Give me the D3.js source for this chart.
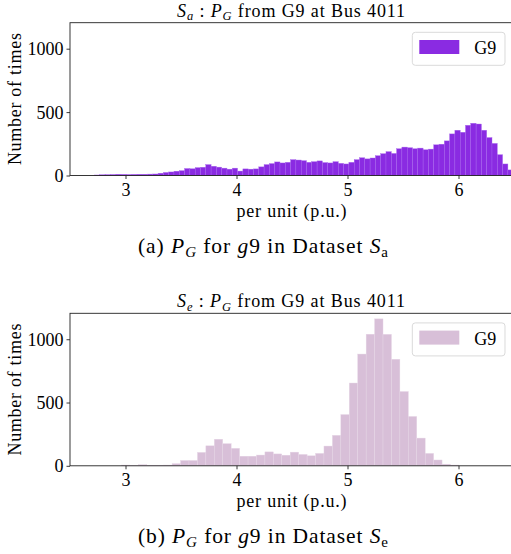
<!DOCTYPE html>
<html>
<head>
<meta charset="utf-8">
<script src="https://cdn.jsdelivr.net/npm/d3@7"></script>
<style>
  html, body { margin: 0; padding: 0; background: #fff; }
  svg { display: block; }
  text { font-family: "Liberation Serif", "Times New Roman", Tinos, Times, "DejaVu Serif", "Noto Serif", serif; fill: #000; }
</style>
</head>
<body>
<svg id="chart" width="511" height="554"></svg>
<script>
// ---------------- data ----------------
const xTicks = [3, 4, 5, 6];
const yTicks = [0, 500, 1000];
const xDomain = [2.5, 6.5];
const yDomain = [0, 1205];

// Dataset S_a histogram (bin start, bin width, counts)
const binStartA = 2.7205;
const binWidthA = 0.04775;
const countsA = [
  4, 6, 7, 8, 10, 9, 8, 9, 10, 10, 11, 12,
  18, 24, 28, 34,
  38, 55, 53, 62, 65, 86, 73, 66,
  58, 50, 58, 35,
  52, 50, 52,
  68, 86, 94, 107, 99, 104, 125, 122, 117, 104, 109, 115, 102, 99, 109, 96, 91, 104, 125, 140, 131,
  138, 156, 172, 188, 174, 211, 224, 219, 211, 216, 203, 208, 242, 247, 273, 328, 357, 341,
  396, 412, 406, 357, 299, 253, 164, 91, 44
];

// Dataset S_e histogram
const binStartE = 2.964;
const binWidthE = 0.0760;
const countsE = [
  6, 3, 9, 5, 5, 6, 17, 42, 42, 106,
  158, 210, 175, 138, 76, 76, 85, 110, 94, 84,
  108, 90, 79, 98, 156, 241, 405, 654, 883, 1040,
  1161, 1039, 842, 587, 390, 219, 98, 46, 13, 6
];

const seriesName = "G9";
const colorA = "#8A2BE2";
const colorE = "#D8BFD8";

// ---------------- drawing ----------------
const FONT = '"Liberation Serif", "Times New Roman", Tinos, Times, "DejaVu Serif", "Noto Serif", serif';
const svg = d3.select("#chart");
const FS = 18;
const left = 70, right = 514;
const x = d3.scaleLinear().domain(xDomain).range([left, right]);

function panel(cfg) {
  const y = d3.scaleLinear().domain(yDomain).range([cfg.bottom, cfg.top]);
  const g = svg.append("g");

  // bars
  const bins = cfg.counts.map((c, i) => ({
    x0: cfg.start + i * cfg.width,
    x1: cfg.start + (i + 1) * cfg.width,
    c: c
  }));
  g.append("g").selectAll("rect").data(bins).join("rect")
    .attr("x", d => x(d.x0))
    .attr("width", d => x(d.x1) - x(d.x0))
    .attr("y", d => y(d.c))
    .attr("height", d => y(0) - y(d.c))
    .attr("fill", cfg.color)
    .attr("stroke", cfg.edge)
    .attr("stroke-width", 0.4);

  // axes
  const xAxis = d3.axisBottom(x).tickValues(xTicks).tickSize(3.5).tickPadding(4).tickFormat(d3.format("d"));
  const gx = g.append("g").attr("transform", `translate(0,${cfg.bottom})`).call(xAxis);
  const yAxis = d3.axisLeft(y).tickValues(yTicks).tickSize(3.5).tickPadding(3).tickFormat(d3.format("d"));
  const gy = g.append("g").attr("transform", `translate(${left},0)`).call(yAxis);
  [gx, gy].forEach(a => {
    a.attr("font-family", null).attr("font-size", null);
    a.select(".domain").remove();
    a.selectAll(".tick line").attr("stroke", "#222").attr("stroke-width", 0.9);
    a.selectAll(".tick text").style("font-family", FONT)
      .style("font-size", FS + "px").attr("fill", "#000");
  });
  gx.selectAll(".tick text").attr("dy", null).attr("y", 20.5);
  gy.selectAll(".tick text").attr("dy", null).attr("y", 6).attr("x", -6.5);

  // frame
  g.append("rect")
    .attr("x", left).attr("y", cfg.top)
    .attr("width", right - left).attr("height", cfg.bottom - cfg.top)
    .attr("fill", "none").attr("stroke", "#222").attr("stroke-width", 0.9);

  // title
  const t = g.append("text")
    .attr("x", 291).attr("y", cfg.top - 6)
    .attr("text-anchor", "middle")
    .style("font-family", FONT)
    .style("font-size", FS + "px")
    .attr("textLength", 228).attr("lengthAdjust", "spacing");
  t.append("tspan").attr("font-style", "italic").text("S");
  t.append("tspan").attr("font-style", "italic").attr("font-size", "12.5px").attr("dy", 3.5).text(cfg.sub);
  t.append("tspan").attr("dy", -3.5).text(" : ");
  t.append("tspan").attr("font-style", "italic").text("P");
  t.append("tspan").attr("font-style", "italic").attr("font-size", "12.5px").attr("dy", 3.5).text("G");
  t.append("tspan").attr("dy", -3.5).text(" from G9 at Bus 4011");

  // x label
  g.append("text")
    .attr("x", 291.5).attr("y", cfg.bottom + 41.2)
    .attr("text-anchor", "middle")
    .style("font-family", FONT)
    .style("font-size", FS + "px")
    .attr("textLength", 110).attr("lengthAdjust", "spacing")
    .text("per unit (p.u.)");

  // y label
  const cy = (cfg.top + cfg.bottom) / 2;
  g.append("text")
    .attr("transform", `translate(20.5,${cy}) rotate(-90)`)
    .attr("text-anchor", "middle")
    .style("font-family", FONT)
    .style("font-size", FS + "px")
    .attr("textLength", 132).attr("lengthAdjust", "spacing")
    .text("Number of times");

  // legend
  const lg = g.append("g").attr("transform", `translate(412.3,${cfg.top + 9.6})`);
  lg.append("rect").attr("width", 92.7).attr("height", 33)
    .attr("rx", 3).attr("ry", 3)
    .attr("fill", "#fff").attr("fill-opacity", 0.8)
    .attr("stroke", "#d6d6d6").attr("stroke-width", 0.9);
  lg.append("rect").attr("x", 7).attr("y", 7.7).attr("width", 40).attr("height", 14)
    .attr("fill", cfg.color);
  lg.append("text").attr("x", 62).attr("y", 22)
    .style("font-family", FONT)
    .style("font-size", FS + "px").text(seriesName);

  // caption
  const c = g.append("text")
    .attr("x", 263).attr("y", cfg.capY)
    .attr("text-anchor", "middle")
    .style("font-family", FONT)
    .style("font-size", "21.5px")
    .attr("textLength", 250).attr("lengthAdjust", "spacing");
  c.append("tspan").text(cfg.capLabel + "  ");
  c.append("tspan").attr("font-style", "italic").text("P");
  c.append("tspan").attr("font-style", "italic").attr("font-size", "15px").attr("dy", 4).text("G");
  c.append("tspan").attr("dy", -4).text("  for  ");
  c.append("tspan").attr("font-style", "italic").text("g");
  c.append("tspan").text("9  in  Dataset  ");
  c.append("tspan").attr("font-style", "italic").text("S");
  c.append("tspan").attr("font-size", "15px").attr("dy", 4).text(cfg.sub);
}

panel({ top: 22.7, bottom: 175.5, counts: countsA, start: binStartA, width: binWidthA,
        color: colorA, edge: "#a866ee", sub: "a", capLabel: "(a)", capY: 253 });
panel({ top: 313.3, bottom: 465.8, counts: countsE, start: binStartE, width: binWidthE,
        color: colorE, edge: "#e6d6e6", sub: "e", capLabel: "(b)", capY: 543 });
</script>
</body>
</html>
